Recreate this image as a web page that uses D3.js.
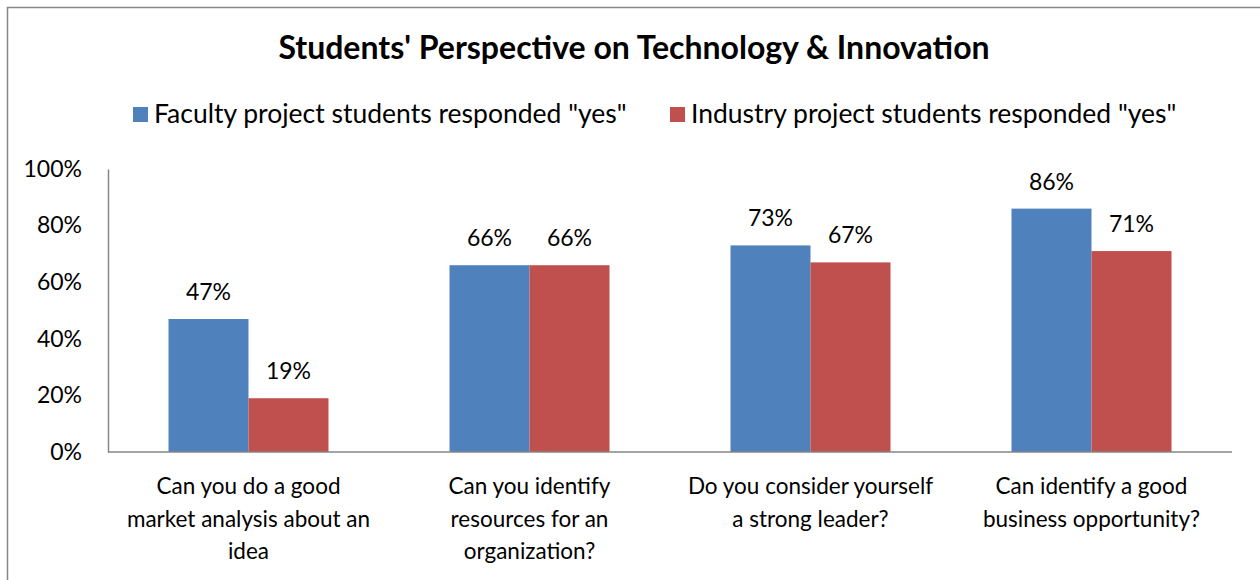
<!DOCTYPE html>
<meta charset="utf-8">
<script src="https://d3js.org/d3.v7.min.js"></script>
<style>
  body { margin: 0; background: #fff; }
  text { font-family: Lato, "Open Sans", sans-serif; fill: #000; }
</style>
<div id="my_dataviz"></div>
<script>
    // data
    var categories = [
        ["Can you do a good", "market analysis about an", "idea"],
        ["Can you identify", "resources for an", "organization?"],
        ["Do you consider yourself", "a strong leader?"],
        ["Can identify a good", "business opportunity?"]
    ];
    var seriesNames = ['Faculty project students responded "yes"', 'Industry project students responded "yes"'];
    var faculty = [47, 66, 73, 86];
    var industry = [19, 66, 67, 71];
    var yTicks = [0, 20, 40, 60, 80, 100];
    var colors = ["#4f81bd", "#c0504d"];

    var W = 1260, H = 580;
    var margin = { top: 169, right: 28, bottom: 128, left: 108 },
        width = W - margin.left - margin.right,
        height = H - margin.top - margin.bottom;

    var svg = d3.select("#my_dataviz")
        .append("svg")
        .attr("width", W)
        .attr("height", H);

    // outer frame
    svg.append("rect")
        .attr("x", 7.5).attr("y", 7.5)
        .attr("width", W).attr("height", H)
        .attr("fill", "none")
        .attr("stroke", "#868686")
        .attr("stroke-width", 1.5);

    svg.append("text")
        .attr("x", 634).attr("y", 59)
        .attr("text-anchor", "middle")
        .style("font-size", "32px")
        .style("font-weight", "bold")
        .text("Students' Perspective on Technology & Innovation");

    // legend
    var legX = [133, 670];
    seriesNames.forEach(function (name, i) {
        svg.append("rect")
            .attr("x", legX[i]).attr("y", 107)
            .attr("width", 15).attr("height", 15)
            .attr("fill", colors[i]);
        svg.append("text")
            .attr("x", legX[i] + 21).attr("y", 123)
            .style("font-size", "26.5px")
            .text(name);
    });

    var g = svg.append("g")
        .attr("transform", "translate(" + margin.left + "," + margin.top + ")");

    var x0 = d3.scaleBand()
        .domain(d3.range(categories.length))
        .range([0, width]);

    var x1 = d3.scaleBand()
        .domain([0, 1])
        .range([60.5, x0.bandwidth() - 60.5]);

    var y = d3.scaleLinear()
        .domain([0, 100])
        .range([height, 0]);

    // y axis
    var yAxis = g.append("g")
        .call(d3.axisLeft(y).tickValues(yTicks).tickSize(0).tickPadding(26)
            .tickFormat(function (d) { return d + "%"; }));
    yAxis.select(".domain").attr("stroke", "#868686").attr("stroke-width", 1.5);
    yAxis.selectAll("text")
        .style("font-size", "23px")
        .style("font-family", "Lato, 'Open Sans', sans-serif");

    var rows = faculty.map(function (v, i) { return [v, industry[i]]; });

    var groups = g.selectAll("g.grp")
        .data(rows)
        .enter()
        .append("g")
        .attr("class", "grp")
        .attr("transform", function (d, i) { return "translate(" + x0(i) + ",0)"; });

    groups.selectAll("rect")
        .data(function (d) { return d; })
        .enter()
        .append("rect")
        .attr("x", function (d, j) { return x1(j); })
        .attr("y", function (d) { return y(d); })
        .attr("width", x1.bandwidth())
        .attr("height", function (d) { return height - y(d); })
        .attr("fill", function (d, j) { return colors[j]; });

    groups.selectAll("text.val")
        .data(function (d) { return d; })
        .enter()
        .append("text")
        .attr("class", "val")
        .attr("x", function (d, j) { return x1(j) + x1.bandwidth() / 2; })
        .attr("y", function (d) { return y(d) - 19; })
        .attr("text-anchor", "middle")
        .style("font-size", "23px")
        .text(function (d) { return d + "%"; });

    // x axis line
    g.append("line")
        .attr("x1", 0).attr("x2", width)
        .attr("y1", height).attr("y2", height)
        .attr("stroke", "#868686")
        .attr("stroke-width", 1.5);

    // category labels
    categories.forEach(function (lines, i) {
        var t = g.append("text")
            .attr("x", x0(i) + x0.bandwidth() / 2)
            .attr("y", height + 42)
            .attr("text-anchor", "middle")
            .style("font-size", "22.5px");
        lines.forEach(function (l, k) {
            t.append("tspan")
                .attr("x", x0(i) + x0.bandwidth() / 2)
                .attr("dy", k === 0 ? 0 : 32.5)
                .text(l);
        });
    });
</script>
